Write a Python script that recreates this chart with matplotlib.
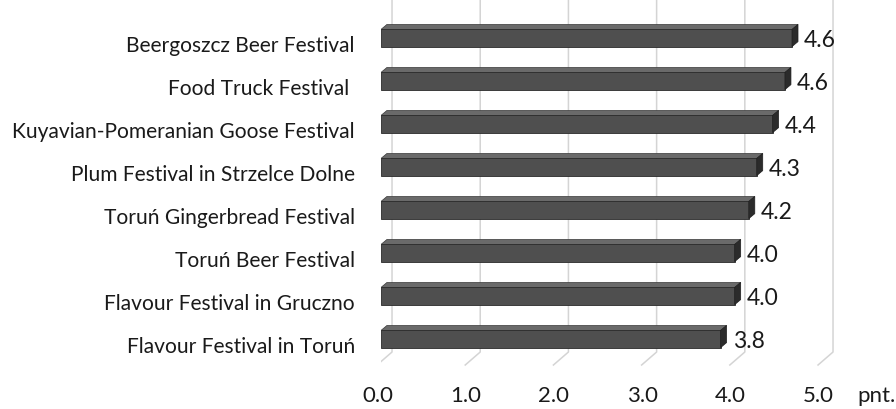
import matplotlib.pyplot as plt
from matplotlib.patches import Polygon

# festivals, bottom to top
festivals = ['Flavour Festival in Toruń', 'Flavour Festival in Gruczno', 'Toruń Beer Festival',
             'Toruń Gingerbread Festival', 'Plum Festival in Strzelce Dolne',
             'Kuyavian-Pomeranian Goose Festival', 'Food Truck Festival ', 'Beergoszcz Beer Festival']
# bar lengths as drawn
scores = [3.85, 4.01, 4.01, 4.17, 4.26, 4.44, 4.58, 4.66]
# labels as printed on the chart
score_labels = ['3.8', '4.0', '4.0', '4.2', '4.3', '4.4', '4.6', '4.6']
ticks = [0, 1, 2, 3, 4, 5]
tick_labels = ['0.0', '1.0', '2.0', '3.0', '4.0', '5.0']

plt.rcParams['font.family'] = ['Lato', 'DejaVu Sans']

fig = plt.figure(figsize=(8.96, 4.10), dpi=100)
ax = fig.add_axes([381/896, 1-370/410, 500/896, 370/410])
ax.set_xlim(0, 500/88.2)
ax.set_ylim(-0.744, 7.86)
ax.axis('off')

# depth of the wall and of the bars (data units)
wall_dx, wall_dy = 0.125, 0.30
front_dx = -0.045
bar_dx, bar_dy = 0.068, 0.116

# 3d style gridlines: back wall part plus floor diagonal
for t in ticks:
    ax.plot([t + wall_dx, t + wall_dx, t + front_dx], [7.86, -0.349, -0.651],
            color='#d4d4d4', lw=1.1, zorder=1)

h = 0.40
ypos = [i - 0.047 for i in range(len(festivals))]
ax.barh(ypos, scores, height=h, color='#4f4f4f', edgecolor='#2a2a2a', lw=0.6, zorder=3)
for y, v in zip(ypos, scores):
    top = y + h/2
    ax.add_patch(Polygon([[0, top], [v, top], [v + bar_dx, top + bar_dy], [bar_dx, top + bar_dy]],
                         closed=True, fc='#6a6a6a', ec='#3a3a3a', lw=0.5, zorder=2))
    ax.add_patch(Polygon([[v, y - h/2], [v, top], [v + bar_dx, top + bar_dy], [v + bar_dx, y - h/2 + bar_dy]],
                         closed=True, fc='#2b2b2b', ec='#1e1e1e', lw=0.5, zorder=4))

for i, (name, v, lab) in enumerate(zip(festivals, scores, score_labels)):
    ax.text(-0.295, i - 0.349, name, ha='right', va='baseline', fontsize=15.1,
            color='#1a1a1a', clip_on=False)
    ax.text(v + bar_dx + 0.07, i - 0.244, lab, ha='left', va='baseline', fontsize=16.5,
            color='#1a1a1a', clip_on=False)

for t, lab in zip(ticks, tick_labels):
    ax.text(t - 0.04, -1.488, lab, ha='center', va='baseline', fontsize=16,
            color='#1a1a1a', clip_on=False)
ax.text(5.397, -1.488, 'pnt.', ha='left', va='baseline', fontsize=16, color='#1a1a1a', clip_on=False)

fig.savefig('out.png', dpi=100, facecolor='white')
